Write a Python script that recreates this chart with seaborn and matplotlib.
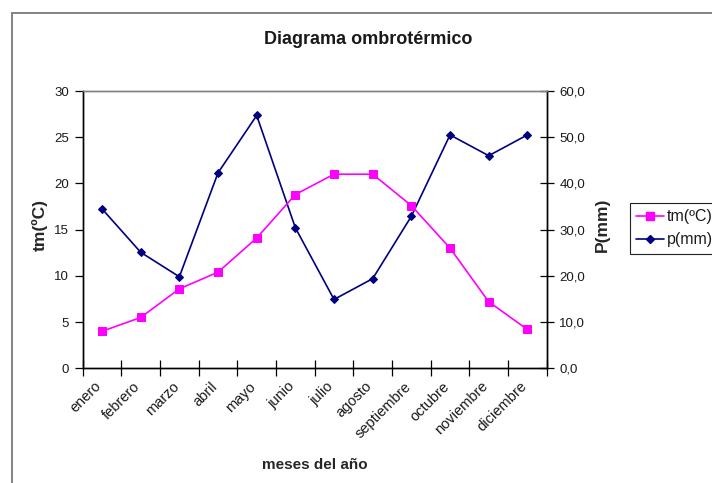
import numpy as np
import pandas as pd
import matplotlib
matplotlib.use("Agg")
import matplotlib.pyplot as plt
import seaborn as sns
from matplotlib.lines import Line2D
from matplotlib.patches import Rectangle
from matplotlib.ticker import FuncFormatter

# Monthly climate values
meses = ["enero", "febrero", "marzo", "abril", "mayo", "junio", "julio",
         "agosto", "septiembre", "octubre", "noviembre", "diciembre"]
tm = [4.0, 5.5, 8.6, 10.4, 14.1, 18.8, 21.0, 21.0, 17.6, 13.0, 7.2, 4.2]
p = [34.5, 25.1, 19.8, 42.3, 54.7, 30.4, 14.9, 19.4, 32.9, 50.5, 46.0, 50.5]

serie_t = "tm(ºC)"
serie_p = "p(mm)"

sns.set_theme(style="white")
plt.rcParams["font.family"] = ["Liberation Sans", "DejaVu Sans"]
plt.rcParams["text.color"] = "#1a1a1a"
plt.rcParams["xtick.color"] = "#1a1a1a"
plt.rcParams["ytick.color"] = "#1a1a1a"

df = pd.DataFrame({"mes": meses, "tm": tm, "p": p})
df["pos"] = np.arange(len(meses))

W, H = 712, 483
fig = plt.figure(figsize=(W / 100, H / 100), dpi=100)
fig.patch.set_facecolor("white")

# plot area in pixel coordinates
left, right, top, bottom = 82.7, 546.7, 91.0, 368.3
ax = fig.add_axes([left / W, 1 - bottom / H, (right - left) / W, (bottom - top) / H])
ax2 = ax.twinx()
ax.set_zorder(ax2.get_zorder() + 1)
ax.patch.set_visible(False)
ax2.set_facecolor("#C0C0C0")

magenta = "#FF00FF"
navy = "#000080"

sns.lineplot(data=df, x="pos", y="p", ax=ax2, color=navy, marker="D",
             markersize=4.5, markeredgecolor=navy, linewidth=1.2, sort=False)
sns.lineplot(data=df, x="pos", y="tm", ax=ax, color=magenta, marker="s",
             markersize=5.5, markeredgecolor=magenta, linewidth=1.2, sort=False)

ax.set_xlim(-0.5, len(meses) - 0.5)
ax.set_ylim(0, 30)
ax2.set_ylim(0, 60)

# category boundaries carry the tick marks, centres carry the names
ax.set_xticks(np.arange(-0.5, len(meses), 1))
ax.set_xticklabels([])
ax.set_xticks(df["pos"], minor=True)
ax.set_xticklabels(meses, minor=True, rotation=45, ha="right", va="baseline",
                   rotation_mode="anchor")
ax.tick_params(axis="x", which="major", direction="inout", length=11,
               width=0.9, color="black", bottom=True)
ax.tick_params(axis="x", which="minor", length=0, pad=13.5, labelsize=10.5,
               bottom=True)

ax.set_yticks(range(0, 31, 5))
ax.tick_params(axis="y", direction="out", length=6, width=0.9,
               color="black", pad=4, labelsize=9.5, left=True)
ax2.set_yticks(range(0, 61, 10))
ax2.yaxis.set_major_formatter(FuncFormatter(lambda v, _: f"{v:.1f}".replace(".", ",")))
ax2.tick_params(axis="y", direction="inout", length=10, width=0.9,
                color="black", pad=4, labelsize=9.5, right=True)

for a in (ax, ax2):
    for side in ("left", "bottom", "right"):
        a.spines[side].set_color("black")
        a.spines[side].set_linewidth(1.0)
        a.spines[side].set_visible(True)
    a.spines["top"].set_color("#808080")
    a.spines["top"].set_linewidth(1.0)
    a.grid(False)

ax.set_xlabel("meses del año", fontsize=11, fontweight="bold")
ax.xaxis.set_label_coords(0.5, (bottom - 465) / (bottom - top))
ax.xaxis.label.set_va("center")

ax.set_ylabel("tm(ºC)", fontsize=12.5, fontweight="bold")
ax.yaxis.set_label_coords((40 - left) / (right - left), (bottom - 225) / (bottom - top))
ax.yaxis.label.set(va="center", ha="center", rotation_mode="default")

ax2.set_ylabel("P(mm)", fontsize=12.5, fontweight="bold")
ax2.yaxis.set_label_coords((602 - left) / (right - left), (bottom - 225) / (bottom - top))
ax2.yaxis.label.set(va="center", ha="center", rotation_mode="default")

ax.set_title("Diagrama ombrotérmico", fontsize=13, fontweight="bold",
             x=(368 - left) / (right - left), y=(bottom - 39) / (bottom - top),
             va="center", pad=0)

# chart frame
fig.add_artist(Rectangle((12 / W, -0.5), 2.0, (1 - 13 / H) + 0.5,
                         transform=fig.transFigure, fill=False,
                         edgecolor="#7a7a7a", linewidth=1.3, clip_on=False))

h1 = Line2D([], [], color=magenta, marker="s", markersize=5.5,
            markeredgecolor=magenta, lw=1.2)
h2 = Line2D([], [], color=navy, marker="D", markersize=4.5,
            markeredgecolor=navy, lw=1.2)
leg = fig.legend([h1, h2], [serie_t, serie_p], loc="upper left",
                 bbox_to_anchor=(630 / W, 1 - 203 / H), frameon=True,
                 fancybox=False, edgecolor="#222222", framealpha=1,
                 fontsize=11.5, handlelength=1.75, handletextpad=0.15,
                 borderpad=0.4, labelspacing=0.5, borderaxespad=0)
leg.get_frame().set_linewidth(0.8)

fig.savefig("out.png", dpi=100)
